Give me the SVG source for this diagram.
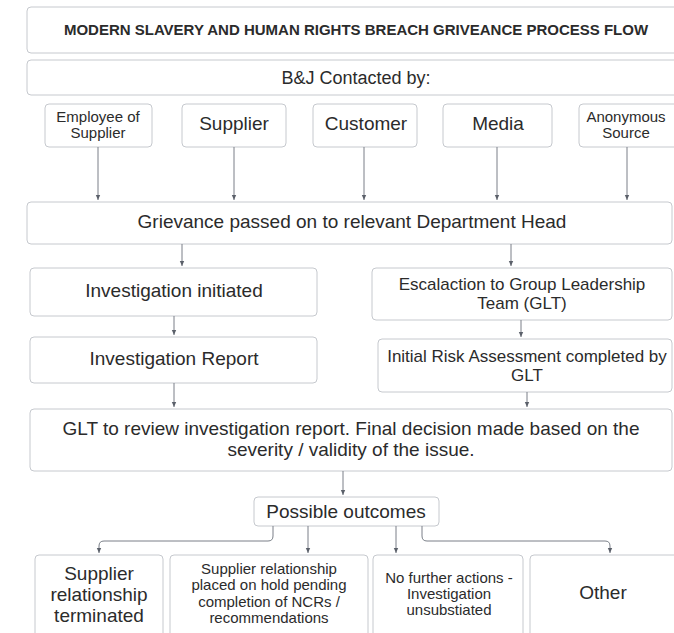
<svg xmlns="http://www.w3.org/2000/svg" width="674" height="633" viewBox="0 0 674 633">
<defs>
<style>
.box{fill:#fff;stroke:#c6c9ce;stroke-width:1}
.t{font-family:"Liberation Sans",Arial,sans-serif;fill:#2b2b2b;text-anchor:middle}
.L{font-size:19px}
.M{font-size:17px}
.S{font-size:15px}
.c{fill:none;stroke:#7a7f88;stroke-width:1}
</style>
<marker id="ah" viewBox="0 0 6 6" refX="5" refY="3" markerWidth="6" markerHeight="6" orient="auto" markerUnits="userSpaceOnUse">
<path d="M0,0.8 L5,3 L0,5.2 Z" fill="#5b606a"/>
</marker>
</defs>
<rect width="674" height="633" fill="#fff"/>
<g id="title"><rect class="box" x="27" y="7" width="660" height="46" rx="4"/><text class="t" x="356" y="35" font-size="15" font-weight="bold">MODERN SLAVERY AND HUMAN RIGHTS BREACH GRIVEANCE PROCESS FLOW</text></g>
<g id="contacted"><rect class="box" x="27" y="60" width="660" height="35" rx="4"/><text class="t" x="356" y="84" font-size="18">B&amp;J Contacted by:</text></g>
<g id="employee"><rect class="box" x="45" y="104" width="107" height="43" rx="4"/><text class="t S" x="98" y="122">Employee of</text><text class="t S" x="98" y="138">Supplier</text></g>
<g id="supplier"><rect class="box" x="182" y="104" width="104" height="43" rx="4"/><text class="t L" x="234" y="130">Supplier</text></g>
<g id="customer"><rect class="box" x="313" y="104" width="104" height="43" rx="4"/><text class="t L" x="366" y="130">Customer</text></g>
<g id="media"><rect class="box" x="443" y="104" width="109" height="43" rx="4"/><text class="t L" x="498" y="130">Media</text></g>
<g id="anonymous"><rect class="box" x="579" y="104" width="100" height="43" rx="4"/><text class="t S" x="626" y="122">Anonymous</text><text class="t S" x="626" y="138">Source</text></g>
<g id="grievance"><rect class="box" x="27" y="202" width="645" height="42" rx="4"/><text class="t L" x="352" y="228">Grievance passed on to relevant Department Head</text></g>
<g id="initiated"><rect class="box" x="30" y="268" width="287" height="48" rx="4"/><text class="t L" x="174" y="297">Investigation initiated</text></g>
<g id="escalation"><rect class="box" x="372" y="268" width="300" height="52" rx="4"/><text class="t M" x="522" y="290">Escalaction to Group Leadership</text><text class="t M" x="522" y="309">Team (GLT)</text></g>
<g id="report"><rect class="box" x="30" y="337" width="287" height="46" rx="4"/><text class="t L" x="174" y="365">Investigation Report</text></g>
<g id="risk"><rect class="box" x="378" y="339" width="294" height="53" rx="4"/><text class="t M" x="527" y="362">Initial Risk Assessment completed by</text><text class="t M" x="527" y="381">GLT</text></g>
<g id="review"><rect class="box" x="30" y="409" width="642" height="62" rx="4"/><text class="t L" x="351" y="435">GLT to review investigation report. Final decision made based on the</text><text class="t L" x="351" y="456">severity / validity of the issue.</text></g>
<g id="outcomes"><rect class="box" x="254" y="497" width="185" height="29" rx="4"/><text class="t L" x="346" y="518">Possible outcomes</text></g>
<g id="terminated"><rect class="box" x="35" y="555" width="128" height="90" rx="4"/><text class="t L" x="99" y="580">Supplier</text><text class="t L" x="99" y="601">relationship</text><text class="t L" x="99" y="622">terminated</text></g>
<g id="hold"><rect class="box" x="170" y="555" width="198" height="90" rx="4"/><text class="t S" x="269" y="574">Supplier relationship</text><text class="t S" x="269" y="590">placed on hold pending</text><text class="t S" x="269" y="607">completion of NCRs /</text><text class="t S" x="269" y="623">recommendations</text></g>
<g id="nofurther"><rect class="box" x="373" y="555" width="150" height="90" rx="4"/><text class="t S" x="449" y="583">No further actions -</text><text class="t S" x="449" y="599">Investigation</text><text class="t S" x="449" y="615">unsubstiated</text></g>
<g id="other"><rect class="box" x="530" y="555" width="150" height="90" rx="4"/><text class="t L" x="603" y="599">Other</text></g>
<g id="connectors">
<path class="c" d="M98,147 V200" marker-end="url(#ah)"/>
<path class="c" d="M234,147 V200" marker-end="url(#ah)"/>
<path class="c" d="M364,147 V200" marker-end="url(#ah)"/>
<path class="c" d="M497,147 V200" marker-end="url(#ah)"/>
<path class="c" d="M627,147 V200" marker-end="url(#ah)"/>
<path class="c" d="M182,244 V266" marker-end="url(#ah)"/>
<path class="c" d="M511,244 V266" marker-end="url(#ah)"/>
<path class="c" d="M174,316 V335" marker-end="url(#ah)"/>
<path class="c" d="M521,320 V337" marker-end="url(#ah)"/>
<path class="c" d="M174,383 V407" marker-end="url(#ah)"/>
<path class="c" d="M527,392 V407" marker-end="url(#ah)"/>
<path class="c" d="M343,471 V495" marker-end="url(#ah)"/>
<path class="c" d="M273,526 V536 Q273,541 268,541 H104 Q99,541 99,546 V553" marker-end="url(#ah)"/>
<path class="c" d="M308,526 V553" marker-end="url(#ah)"/>
<path class="c" d="M396,526 V553" marker-end="url(#ah)"/>
<path class="c" d="M422,526 V536 Q422,541 427,541 H605 Q610,541 610,546 V553" marker-end="url(#ah)"/>
</g>
</svg>
